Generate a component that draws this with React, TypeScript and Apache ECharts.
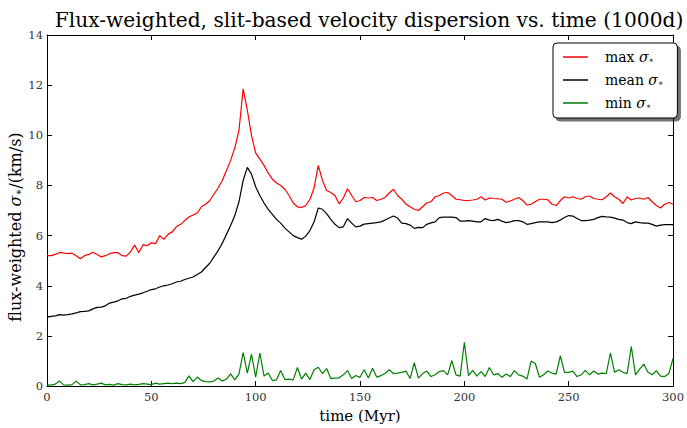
import React, { useEffect, useRef } from "react";
import * as echarts from "echarts";

// time sampling (Myr) of the stored series
const TIME_STEP = 2;

// max sigma_* (km/s), t = 0, 2, ..., 300
const MAX_SIGMA = [
  5.20, 5.20, 5.25, 5.33, 5.30, 5.28, 5.30, 5.20, 5.08, 5.20,
  5.25, 5.34, 5.25, 5.15, 5.20, 5.28, 5.32, 5.32, 5.20, 5.18,
  5.35, 5.62, 5.32, 5.64, 5.60, 5.72, 5.68, 6.00, 5.85, 6.05,
  6.15, 6.35, 6.45, 6.60, 6.74, 6.82, 6.90, 7.15, 7.25, 7.40,
  7.65, 7.90, 8.20, 8.60, 9.00, 9.50, 10.20, 11.85, 11.00, 10.00,
  9.30, 9.05, 8.80, 8.50, 8.25, 8.10, 8.00, 7.85, 7.60, 7.30,
  7.15, 7.12, 7.20, 7.45, 7.90, 8.80, 8.20, 7.80, 7.72, 7.60,
  7.27, 7.50, 7.87, 7.60, 7.35, 7.40, 7.52, 7.50, 7.52, 7.40,
  7.45, 7.52, 7.70, 7.85, 7.60, 7.45, 7.26, 7.15, 7.05, 7.00,
  7.15, 7.30, 7.35, 7.55, 7.60, 7.70, 7.72, 7.60, 7.45, 7.43,
  7.40, 7.40, 7.42, 7.45, 7.55, 7.42, 7.50, 7.48, 7.47, 7.45,
  7.33, 7.38, 7.45, 7.52, 7.40, 7.22, 7.25, 7.35, 7.45, 7.45,
  7.43, 7.25, 7.20, 7.40, 7.55, 7.50, 7.55, 7.48, 7.45, 7.55,
  7.58, 7.48, 7.45, 7.43, 7.55, 7.70, 7.55, 7.45, 7.28, 7.55,
  7.42, 7.48, 7.50, 7.45, 7.52, 7.35, 7.20, 7.10, 7.25, 7.32,
  7.25,
];

// mean sigma_* (km/s)
const MEAN_SIGMA = [
  2.75, 2.78, 2.80, 2.85, 2.83, 2.85, 2.88, 2.92, 2.97, 2.98,
  3.00, 3.08, 3.14, 3.15, 3.20, 3.31, 3.35, 3.40, 3.48, 3.50,
  3.58, 3.63, 3.67, 3.72, 3.78, 3.85, 3.88, 3.95, 4.00, 4.03,
  4.08, 4.15, 4.18, 4.25, 4.30, 4.35, 4.45, 4.55, 4.73, 4.90,
  5.15, 5.40, 5.70, 6.05, 6.40, 6.80, 7.35, 8.20, 8.72, 8.45,
  7.95, 7.60, 7.30, 7.05, 6.85, 6.65, 6.50, 6.30, 6.15, 6.00,
  5.92, 5.86, 5.98, 6.20, 6.55, 7.10, 7.05, 6.88, 6.65, 6.45,
  6.32, 6.35, 6.68, 6.50, 6.35, 6.38, 6.46, 6.48, 6.50, 6.52,
  6.55, 6.62, 6.70, 6.78, 6.70, 6.50, 6.48, 6.42, 6.29, 6.33,
  6.32, 6.45, 6.51, 6.55, 6.72, 6.74, 6.74, 6.74, 6.72, 6.58,
  6.58, 6.60, 6.58, 6.55, 6.55, 6.68, 6.62, 6.60, 6.65, 6.58,
  6.52, 6.55, 6.60, 6.60, 6.55, 6.45, 6.48, 6.52, 6.55, 6.55,
  6.55, 6.52, 6.55, 6.62, 6.72, 6.80, 6.78, 6.68, 6.60, 6.60,
  6.62, 6.65, 6.72, 6.77, 6.75, 6.74, 6.70, 6.65, 6.62, 6.52,
  6.48, 6.55, 6.52, 6.50, 6.50, 6.45, 6.38, 6.42, 6.44, 6.44,
  6.44,
];

// min sigma_* (km/s)
const MIN_SIGMA = [
  0.05, 0.04, 0.08, 0.20, 0.05, 0.04, 0.06, 0.20, 0.05, 0.06,
  0.10, 0.05, 0.08, 0.12, 0.05, 0.07, 0.04, 0.10, 0.06, 0.05,
  0.08, 0.05, 0.07, 0.10, 0.08, 0.06, 0.12, 0.08, 0.10, 0.12,
  0.10, 0.12, 0.10, 0.14, 0.41, 0.18, 0.36, 0.22, 0.18, 0.17,
  0.20, 0.32, 0.20, 0.28, 0.49, 0.25, 0.49, 1.34, 0.52, 1.27,
  0.36, 1.32, 0.40, 0.52, 0.22, 0.25, 0.62, 0.26, 0.28, 0.25,
  0.74, 0.28, 0.52, 0.26, 0.65, 0.75, 0.50, 0.70, 0.30, 0.32,
  0.33, 0.45, 0.62, 0.30, 0.42, 0.35, 0.65, 0.32, 0.71, 0.36,
  0.42, 0.50, 0.65, 0.50, 0.52, 0.55, 0.60, 0.30, 0.93, 0.32,
  0.50, 0.60, 0.38, 0.45, 0.58, 0.62, 0.45, 1.01, 0.45, 0.40,
  1.75, 0.42, 0.63, 0.40, 0.58, 0.38, 0.74, 0.45, 0.50, 0.35,
  0.48, 0.38, 0.62, 0.45, 0.40, 0.28, 1.00, 0.90, 0.35, 0.45,
  0.60, 0.52, 0.48, 1.21, 0.55, 0.55, 0.60, 0.38, 0.45, 0.63,
  0.45, 0.60, 0.48, 0.52, 0.50, 1.32, 0.55, 0.65, 0.55, 0.50,
  1.58, 0.45, 0.68, 0.88, 0.55, 0.45, 0.62, 0.40, 0.38, 0.50,
  1.10,
];

const SERIES_NAMES = ["max", "mean", "min"];
const SERIES_COLORS = ["#ff0000", "#000000", "#008000"];
const X_TICKS = { min: 0, max: 300, interval: 50 };
const Y_TICKS = { min: 0, max: 14, interval: 2 };

const FONT = "'DejaVu Serif', 'Liberation Serif', serif";

function toPairs(values: number[]) {
  return values.map((v, i) => [i * TIME_STEP, v]);
}

export default function App() {
  const ref = useRef<HTMLDivElement>(null);
  useEffect(() => {
    if (!ref.current) return;
    const chart = echarts.init(ref.current, undefined, { renderer: "svg" });
    const axisCommon = {
      axisLine: { show: true, onZero: false, lineStyle: { color: "#000", width: 1 } },
      axisTick: { show: true, inside: true, length: 5, lineStyle: { color: "#000", width: 1 } },
      splitLine: { show: false },
    };
    const dataSets = [MAX_SIGMA, MEAN_SIGMA, MIN_SIGMA];
    chart.setOption({
      animation: false,
      backgroundColor: "#fff",
      title: {
        text: "Flux-weighted, slit-based velocity dispersion vs. time (1000d)",
        left: 364,
        top: 5,
        textAlign: "center",
        textStyle: { fontFamily: FONT, fontSize: 20.2, fontWeight: "normal", color: "#000" },
      },
      grid: { left: 47, right: 7, top: 35, bottom: 33, containLabel: false },
      graphic: [
        {
          type: "text",
          x: 15,
          y: 227,
          rotation: Math.PI / 2,
          style: {
            text: "flux-weighted {i|σ}{s|∗}/(km/s)",
            fontFamily: FONT,
            fontSize: 16,
            fill: "#000",
            align: "center",
            verticalAlign: "middle",
            rich: {
              i: { fontFamily: FONT, fontSize: 16, fontStyle: "italic", fill: "#000" },
              s: { fontFamily: FONT, fontSize: 10, fill: "#000", padding: [7, 0, 0, 0] },
            },
          },
        },
      ],
      xAxis: [
        {
          type: "value",
          ...X_TICKS,
          position: "bottom",
          ...axisCommon,
          axisLabel: { show: true, fontFamily: FONT, fontSize: 11.5, color: "#333", margin: 5 },
          name: "time (Myr)",
          nameLocation: "middle",
          nameGap: 21,
          nameTextStyle: { fontFamily: FONT, fontSize: 15, color: "#000", verticalAlign: "top" },
        },
        {
          type: "value",
          ...X_TICKS,
          position: "top",
          ...axisCommon,
          axisLabel: { show: false },
        },
      ],
      yAxis: [
        {
          type: "value",
          ...Y_TICKS,
          position: "left",
          ...axisCommon,
          axisLabel: { show: true, fontFamily: FONT, fontSize: 11.5, color: "#333", margin: 4 },
        },
        {
          type: "value",
          ...Y_TICKS,
          position: "right",
          ...axisCommon,
          axisLabel: { show: false },
        },
      ],
      legend: {
        orient: "vertical",
        left: 553,
        top: 43,
        padding: [7, 14, 8, 10],
        itemGap: 9,
        itemWidth: 25,
        itemHeight: 1.5,
        icon: "rect",
        backgroundColor: "#fff",
        borderColor: "#000",
        borderWidth: 1,
        borderRadius: 4,
        shadowColor: "rgba(0,0,0,0.55)",
        shadowBlur: 0,
        shadowOffsetX: 3,
        shadowOffsetY: 3,
        data: SERIES_NAMES,
        formatter: (name: string) => `{t|${name} }{i|σ}{s|∗}`,
        textStyle: {
          fontFamily: FONT,
          fontSize: 14,
          color: "#000",
          rich: {
            t: { fontFamily: FONT, fontSize: 14, color: "#000", padding: [0, 0, 0, 12] },
            i: { fontFamily: FONT, fontSize: 14, fontStyle: "italic", color: "#000" },
            s: { fontFamily: FONT, fontSize: 8, color: "#000", padding: [6, 0, 0, 0] },
          },
        },
      },
      series: SERIES_NAMES.map((name, k) => ({
        name,
        type: "line",
        data: toPairs(dataSets[k]),
        symbol: "none",
        showSymbol: false,
        lineStyle: { color: SERIES_COLORS[k], width: 1.2 },
        itemStyle: { color: SERIES_COLORS[k] },
        xAxisIndex: 0,
        yAxisIndex: 0,
      })),
    });
    return () => chart.dispose();
  }, []);
  return (
    <div
      ref={ref}
      style={{ position: "absolute", left: 0, top: 0, width: 687, height: 428 }}
    />
  );
}
